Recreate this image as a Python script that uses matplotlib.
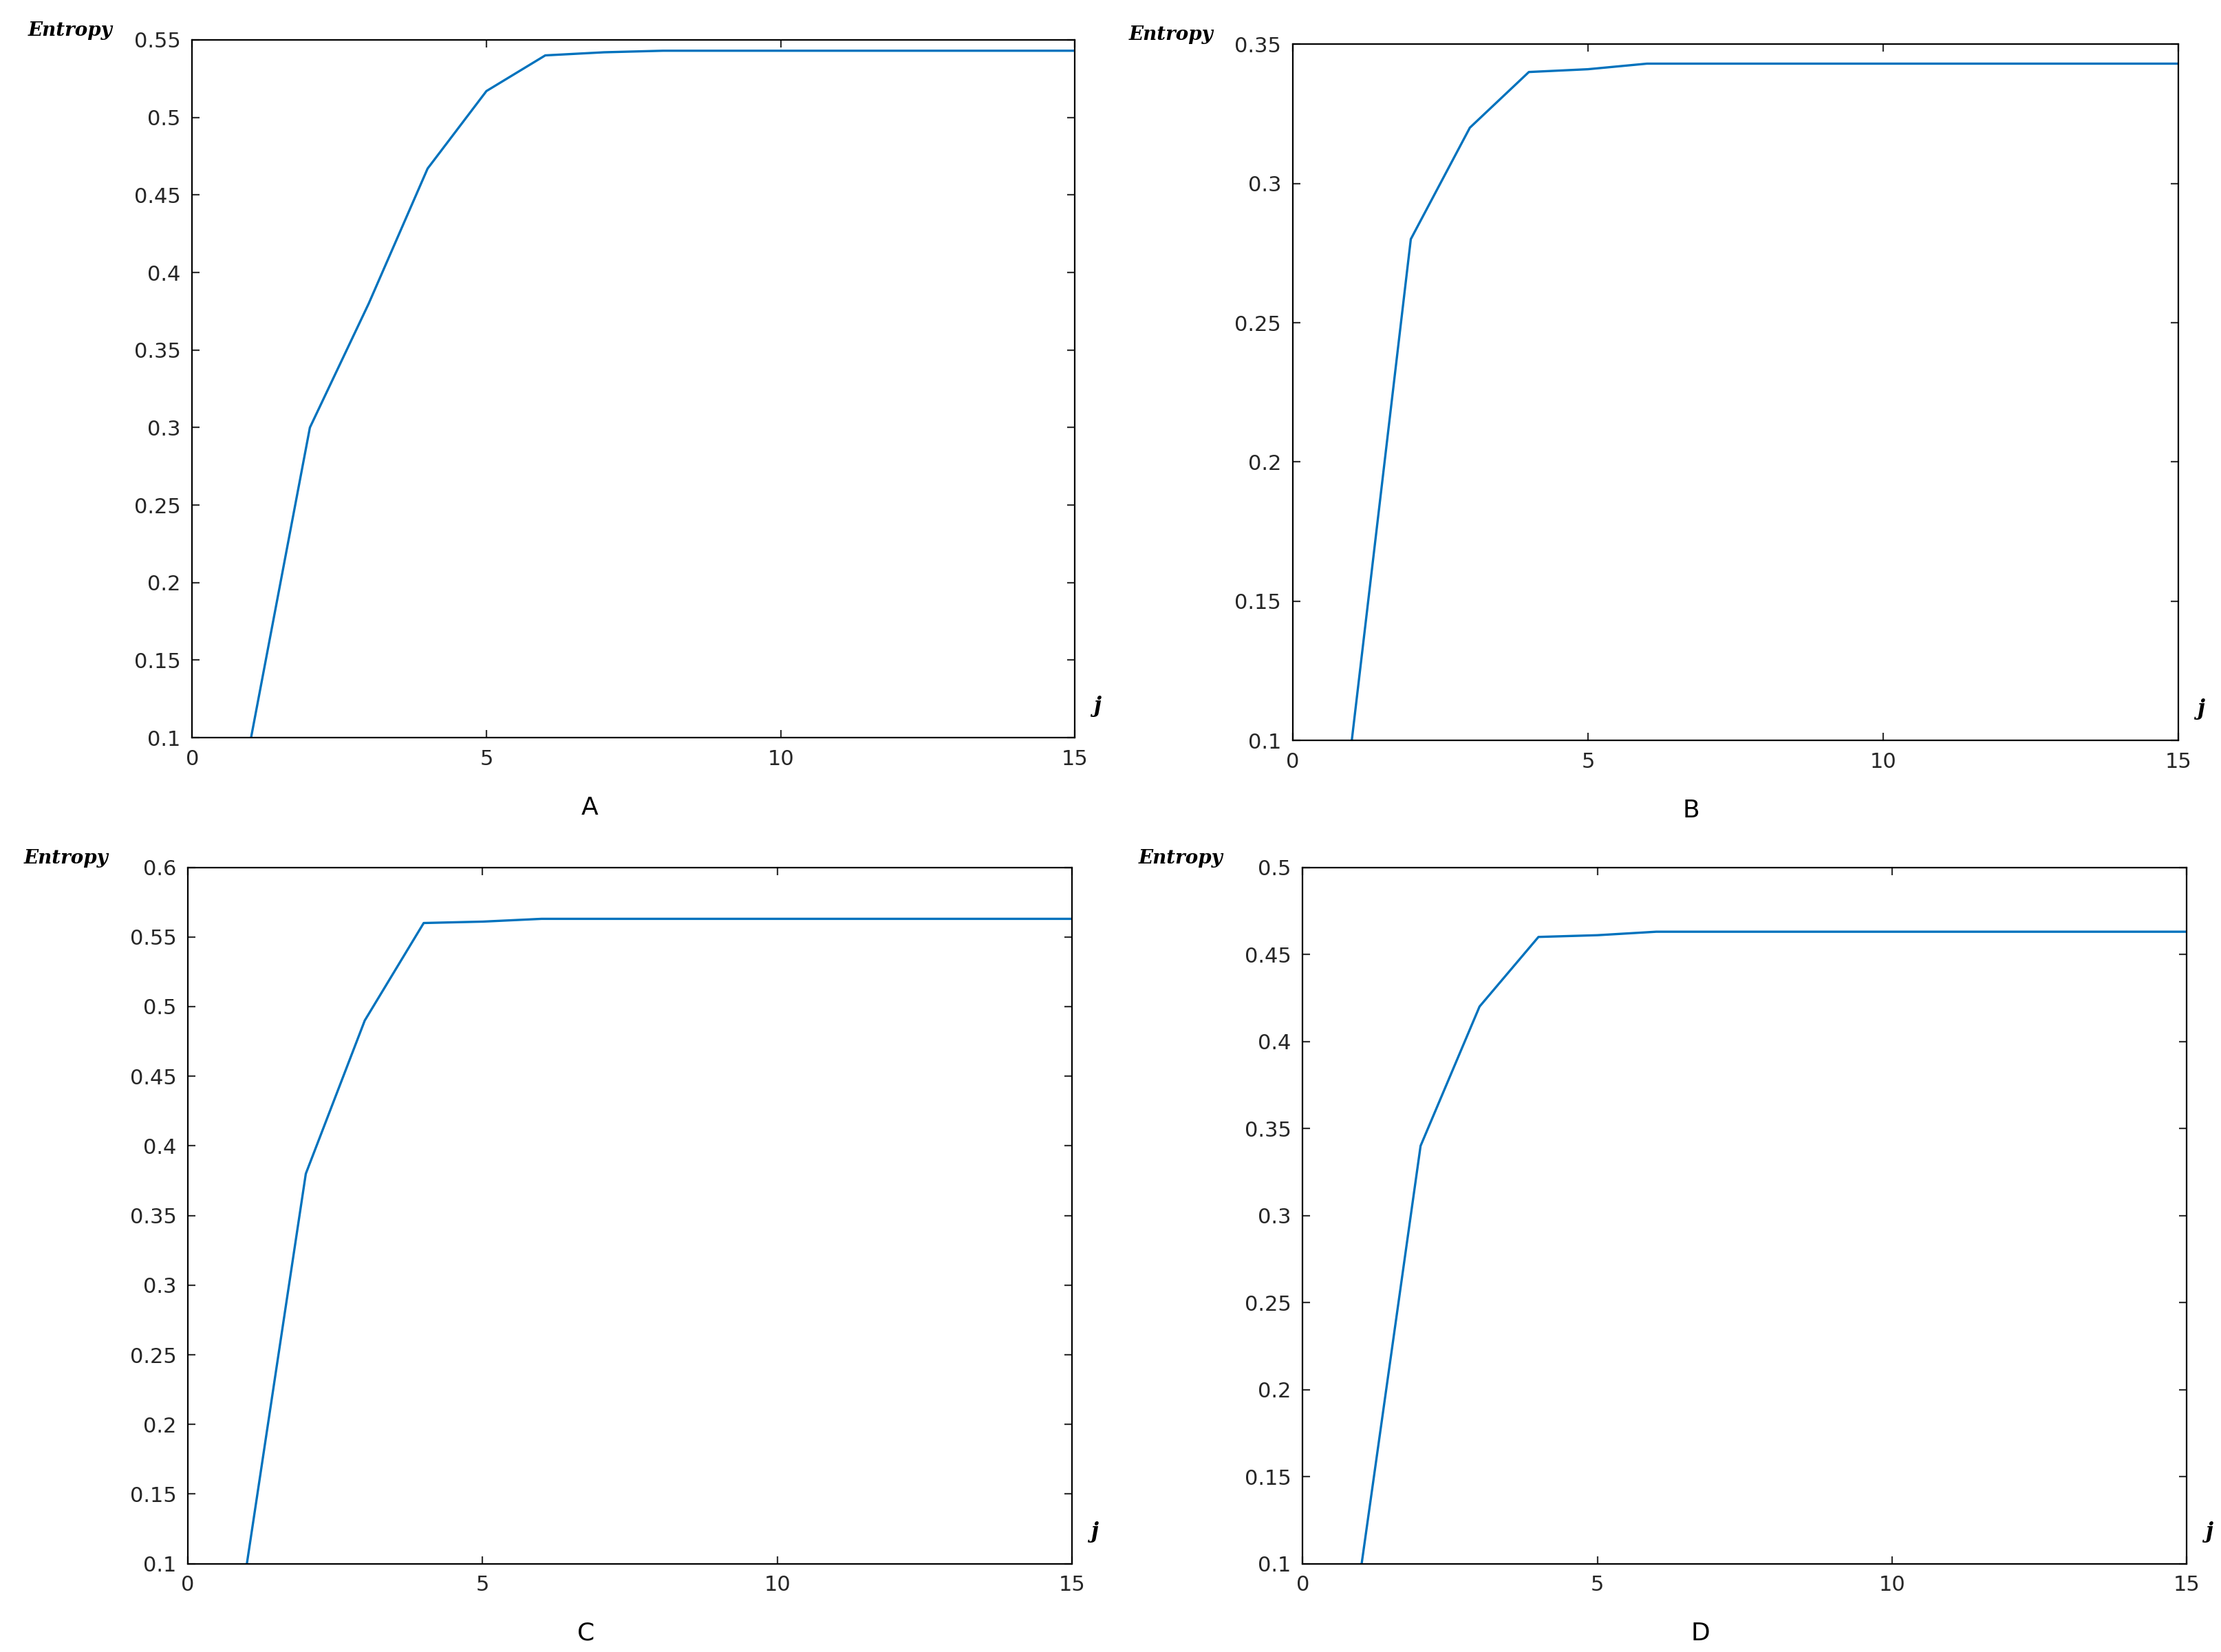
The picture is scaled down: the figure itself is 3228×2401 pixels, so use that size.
import matplotlib
matplotlib.use("Agg")
import matplotlib.pyplot as plt

x = list(range(1, 16))
yA = [0.1, 0.30, 0.38, 0.467, 0.517, 0.540, 0.542, 0.543, 0.543, 0.543, 0.543, 0.543, 0.543, 0.543, 0.543]
yB = [0.1, 0.28, 0.32, 0.340, 0.341, 0.343, 0.343, 0.343, 0.343, 0.343, 0.343, 0.343, 0.343, 0.343, 0.343]
yC = [0.1, 0.38, 0.49, 0.560, 0.561, 0.563, 0.563, 0.563, 0.563, 0.563, 0.563, 0.563, 0.563, 0.563, 0.563]
yD = [0.1, 0.34, 0.42, 0.460, 0.461, 0.463, 0.463, 0.463, 0.463, 0.463, 0.463, 0.463, 0.463, 0.463, 0.463]
panels = ["A", "B", "C", "D"]
ymaxs = [0.55, 0.35, 0.6, 0.5]
xticks = [0, 5, 10, 15]

W, H = 1560.0, 1160.0
boxes = [(135, 755, 28, 518), (908, 1530, 31, 520), (132, 753, 609, 1098), (915, 1536, 609, 1098)]

fig = plt.figure(figsize=(16.14, 12.005), dpi=200)
for lab, ys, ymax, (l, r, t, b) in zip(panels, [yA, yB, yC, yD], ymaxs, boxes):
    ax = fig.add_axes([l / W, 1 - b / H, (r - l) / W, (b - t) / H])
    ax.plot(x, ys, color="#0072BD", lw=1.2)
    ax.set_xlim(0, 15)
    ax.set_ylim(0.1, ymax)
    ax.set_xticks(xticks)
    n = int(round((ymax - 0.1) / 0.05))
    yt = [round(0.1 + 0.05 * i, 2) for i in range(n + 1)]
    ax.set_yticks(yt)
    ax.set_yticklabels([("%g" % v) for v in yt])
    ax.tick_params(direction="in", top=True, right=True, labelsize=11, length=4, pad=6, color="#333333", labelcolor="#262626")
    for s in ax.spines.values():
        s.set_linewidth(0.8)
    ax.text(-0.09, 1.0, "Entropy", transform=ax.transAxes, family="DejaVu Serif", style="italic",
            weight="bold", fontsize=10, ha="right", va="bottom")
    ax.text(1.025, 0.03, "j", transform=ax.transAxes, family="DejaVu Serif", style="italic",
            weight="bold", fontsize=11, ha="center", va="bottom")
    ax.text(0.45, -0.1, lab, transform=ax.transAxes, fontsize=13, ha="center", va="center")

fig.savefig("out.png", dpi=200, facecolor="white")
